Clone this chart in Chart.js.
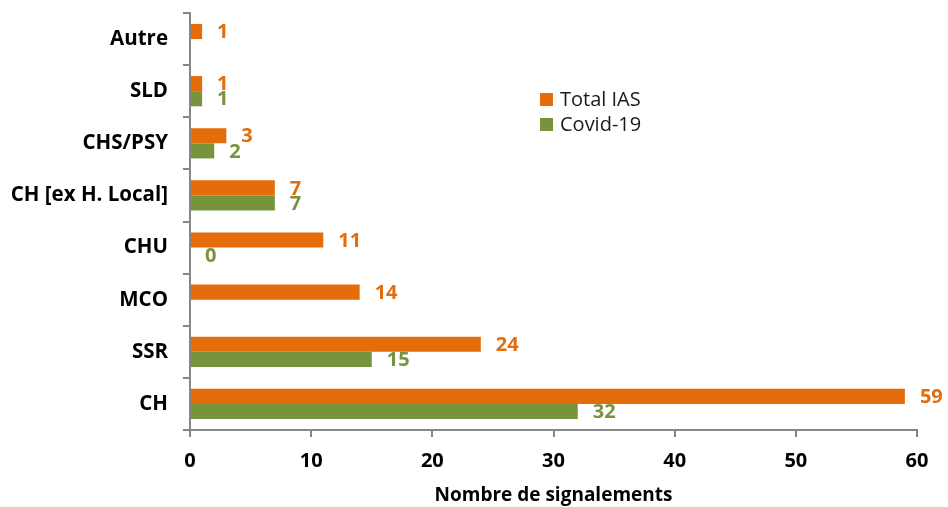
<!DOCTYPE html>
<html>
<head>
<meta charset="utf-8">
<script src="https://cdn.jsdelivr.net/npm/chart.js@4/dist/chart.umd.min.js"></script>
<style>
  html, body { margin: 0; padding: 0; background: #fff; }
  #wrap { width: 948px; height: 507px; }
</style>
</head>
<body>
<div id="wrap"><canvas id="signalements"></canvas></div>
<script>
const categories = ['Autre', 'SLD', 'CHS/PSY', 'CH [ex H. Local]', 'CHU', 'MCO', 'SSR', 'CH'];
const totalIas = [1, 1, 3, 7, 11, 14, 24, 59];
const covid19 = [null, 1, 2, 7, 0, null, 15, 32];
const xTicks = [0, 10, 20, 30, 40, 50, 60];

const ORANGE = '#E46C0A';
const GREEN = '#77933C';
const AXIS = '#868686';
const FONT = "'Open Sans', 'Noto Sans', sans-serif";

// value labels next to each bar end
const barLabels = {
    id: 'barLabels',
    afterDatasetsDraw(chart) {
        const ctx = chart.ctx;
        ctx.save();
        ctx.font = 'bold 20px ' + FONT;
        ctx.textBaseline = 'middle';
        ctx.textAlign = 'left';
        chart.data.datasets.forEach((ds, i) => {
            const meta = chart.getDatasetMeta(i);
            meta.data.forEach((bar, j) => {
                const v = ds.data[j];
                if (v === null) return;
                ctx.fillStyle = ds.backgroundColor;
                ctx.fillText(String(v), bar.x + 15, bar.y + 1);
            });
        });
        ctx.restore();
    }
};

// legend sits inside the plot
const innerLegend = {
    id: 'innerLegend',
    afterDraw(chart) {
        const ctx = chart.ctx;
        const x = 540, y0 = 99, gap = 25;
        ctx.save();
        ctx.font = '20px ' + FONT;
        ctx.textBaseline = 'middle';
        chart.data.datasets.forEach((ds, i) => {
            const y = y0 + i * gap;
            ctx.fillStyle = ds.backgroundColor;
            ctx.fillRect(x, y - 6, 13, 13);
            ctx.fillStyle = '#1a1a1a';
            ctx.fillText(ds.label, x + 20, y + 1);
        });
        ctx.restore();
    }
};

new Chart(document.getElementById('signalements'), {
    type: 'bar',
    data: {
        labels: categories,
        datasets: [
            { label: 'Total IAS', data: totalIas, backgroundColor: ORANGE },
            { label: 'Covid-19', data: covid19, backgroundColor: GREEN }
        ]
    },
    options: {
        indexAxis: 'y',
        responsive: true,
        maintainAspectRatio: false,
        animation: false,
        categoryPercentage: 0.58,
        barPercentage: 1,
        layout: { padding: { top: 13, right: 31, left: 0, bottom: 0 } },
        plugins: {
            legend: { display: false },
            tooltip: { enabled: false }
        },
        scales: {
            x: {
                min: 0,
                max: 60,
                afterBuildTicks: (axis) => { axis.ticks = xTicks.map(v => ({ value: v })); },
                afterFit: (axis) => { axis.height = 77; },
                border: { display: true, color: AXIS, width: 2 },
                grid: { drawOnChartArea: false, drawTicks: true, tickLength: 7, color: AXIS, lineWidth: 2 },
                ticks: { color: '#000', font: { family: FONT, size: 20, weight: 'bold' }, padding: 12 },
                title: {
                    display: true,
                    text: 'Nombre de signalements',
                    color: '#000',
                    font: { family: FONT, size: 19, weight: 'bold' },
                    padding: { top: 2, bottom: 0 }
                }
            },
            y: {
                afterFit: (axis) => {
                    axis.width = 190;
                    axis.paddingTop = 0;
                    axis.paddingBottom = 0;
                },
                border: { display: true, color: AXIS, width: 2 },
                grid: { offset: true, drawOnChartArea: false, drawTicks: true, tickLength: 7, color: AXIS, lineWidth: 2 },
                ticks: { color: '#000', font: { family: FONT, size: 20.5, weight: 'bold' }, padding: 15 }
            }
        }
    },
    plugins: [barLabels, innerLegend]
});
</script>
</body>
</html>
